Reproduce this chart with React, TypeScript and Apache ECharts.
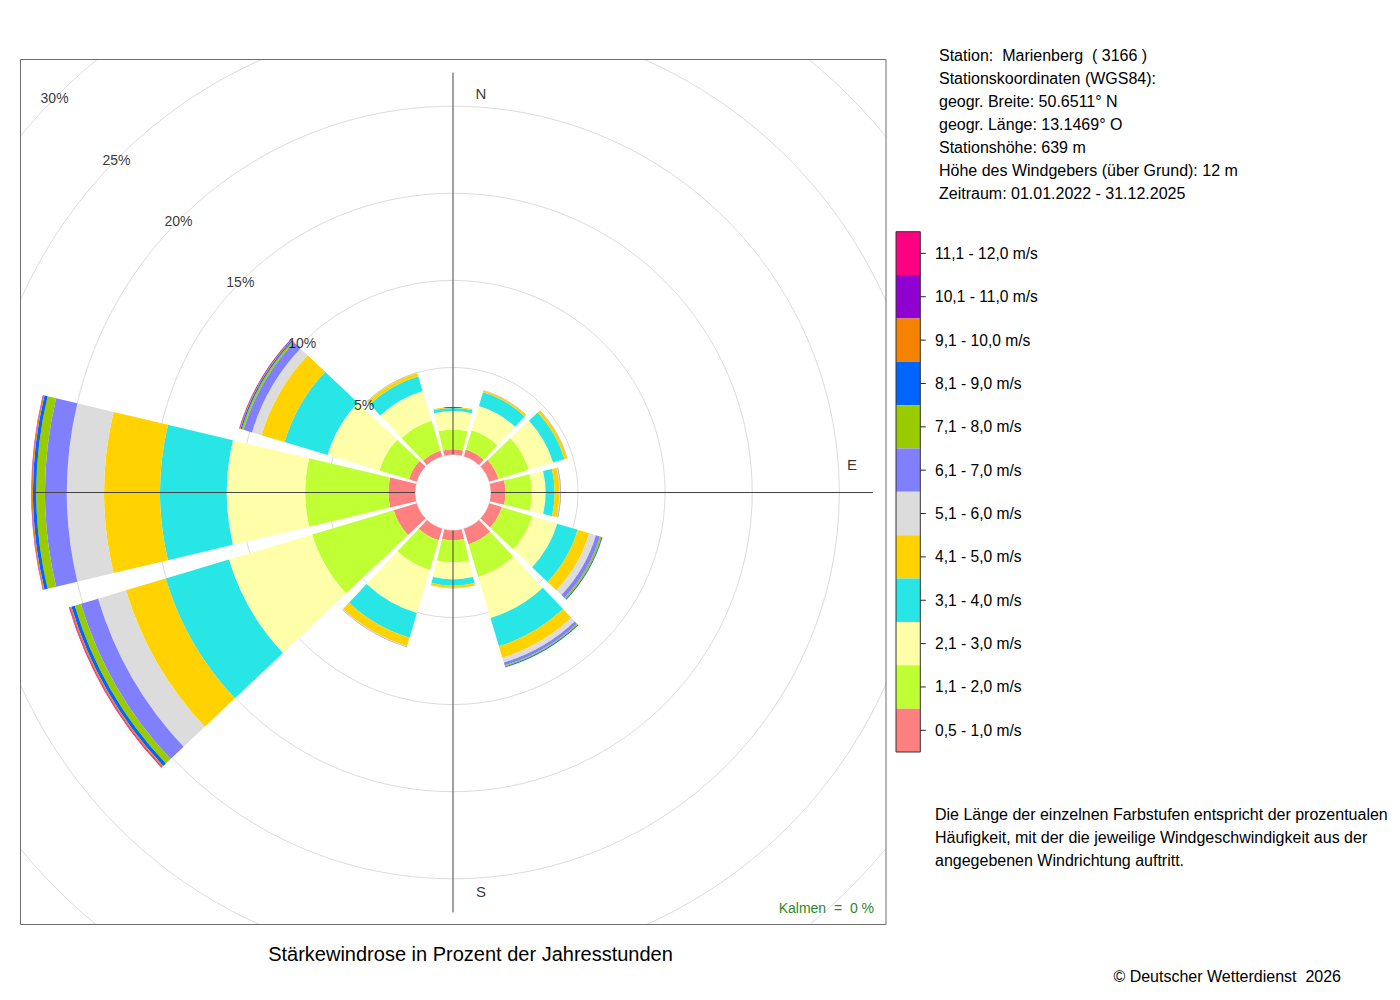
import React, { useEffect, useRef } from "react";
import * as echarts from "echarts";

// Directions (sector centers, clockwise from north, 30° steps)
const directions = ["N", "NNO", "ONO", "O", "OSO", "SSO", "S", "SSW", "WSW", "W", "WNW", "NNW"];

// Speed band labels (innermost first) and colours
const bandLabels = [
  "0,5 - 1,0 m/s",
  "1,1 - 2,0 m/s",
  "2,1 - 3,0 m/s",
  "3,1 - 4,0 m/s",
  "4,1 - 5,0 m/s",
  "5,1 - 6,0 m/s",
  "6,1 - 7,0 m/s",
  "7,1 - 8,0 m/s",
  "8,1 - 9,0 m/s",
  "9,1 - 10,0 m/s",
  "10,1 - 11,0 m/s",
  "11,1 - 12,0 m/s",
];
const bandColors = [
  "#FF8080", "#BFFF33", "#FFFFAA", "#29E6E6", "#FFD200", "#DCDCDC",
  "#8080FF", "#99CC00", "#0064FF", "#F58300", "#9000D0", "#FF0080",
];

// Percent of hours per direction (N, NNO, ONO, O, OSO, SSO, S, SSW, WSW, W, WNW, NNW)
const band0 = [0.30, 0.40, 0.55, 0.84, 0.75, 0.92, 0.57, 0.69, 1.38, 1.53, 0.46, 0.33];
const band1 = [1.14, 1.15, 1.81, 1.51, 1.83, 1.95, 1.27, 1.78, 4.88, 4.78, 1.78, 1.79];
const band2 = [1.06, 1.46, 1.46, 0.79, 1.49, 2.47, 0.97, 2.58, 4.99, 4.50, 3.10, 1.78];
const band3 = [0.17, 0.82, 0.69, 0.52, 1.23, 1.69, 0.36, 1.47, 3.79, 3.83, 2.58, 0.89];
const band4 = [0.06, 0.11, 0.17, 0.28, 0.69, 0.69, 0.14, 0.51, 2.38, 3.21, 1.38, 0.20];
const band5 = [0, 0.01, 0.01, 0.05, 0.40, 0.29, 0.01, 0.03, 1.67, 2.14, 0.57, 0.02];
const band6 = [0, 0.01, 0.01, 0.03, 0.24, 0.17, 0.01, 0.02, 1.03, 1.25, 0.51, 0.01];
const band7 = [0, 0, 0, 0.01, 0.10, 0.07, 0, 0.01, 0.37, 0.50, 0.11, 0.01];
const band8 = [0, 0, 0, 0, 0.05, 0.05, 0, 0, 0.20, 0.19, 0.07, 0];
const band9 = [0, 0, 0, 0, 0.01, 0.01, 0, 0, 0.09, 0.07, 0.04, 0];
const band10 = [0, 0, 0, 0, 0, 0, 0, 0, 0.03, 0.02, 0.03, 0];
const band11 = [0, 0, 0, 0, 0, 0, 0, 0, 0.03, 0.01, 0.01, 0];
const bands = [band0, band1, band2, band3, band4, band5, band6, band7, band8, band9, band10, band11];

// Radial ticks (percent) and compass labels
const percentTicks = [5, 10, 15, 20, 25, 30];
const compassLabels = ["N", "E", "S"];
const compassAngles = [4, 86, 176];

const stationLines = [
  "Station:\u00a0 Marienberg\u00a0 ( 3166 )",
  "Stationskoordinaten (WGS84):",
  "geogr. Breite: 50.6511° N",
  "geogr. Länge: 13.1469° O",
  "Stationshöhe: 639 m",
  "Höhe des Windgebers (über Grund): 12 m",
  "Zeitraum: 01.01.2022 - 31.12.2025",
];
const descriptionLines = [
  "Die Länge der einzelnen Farbstufen entspricht der prozentualen",
  "Häufigkeit, mit der die jeweilige Windgeschwindigkeit aus der",
  "angegebenen Windrichtung auftritt.",
];
const titleText = "Stärkewindrose in Prozent der Jahresstunden";
const calmText = "Kalmen\u00a0 =\u00a0 0 %";
const footerText = "© Deutscher Wetterdienst\u00a0 2026";

const FONT = "'Liberation Sans', Arial, Helvetica, sans-serif";

export default function App() {
  const ref = useRef<HTMLDivElement>(null);

  useEffect(() => {
    if (!ref.current) return;
    const chart = echarts.init(ref.current, undefined, { renderer: "svg" });

    const cx = 453;
    const cy = 492.5;
    const r0 = 37.9;
    const r1 = 560.5;
    const crossR = 21.93;

    const barSeries = bands.map((vals, i) => ({
      type: "bar",
      name: bandLabels[i],
      coordinateSystem: "polar",
      polarIndex: 0,
      stack: "wind",
      barCategoryGap: "11%",
      data: vals,
      itemStyle: { color: bandColors[i], borderWidth: 0 },
      silent: true,
    }));

    const graphics: any[] = [];
    const Z = 100;
    // masks outside the plot frame
    graphics.push({ type: "rect", z: Z, silent: true, shape: { x: 0, y: 0, width: 1400, height: 59 }, style: { fill: "#fff" } });
    graphics.push({ type: "rect", z: Z, silent: true, shape: { x: 0, y: 925, width: 1400, height: 75 }, style: { fill: "#fff" } });
    graphics.push({ type: "rect", z: Z, silent: true, shape: { x: 0, y: 0, width: 20, height: 1000 }, style: { fill: "#fff" } });
    graphics.push({ type: "rect", z: Z, silent: true, shape: { x: 886.5, y: 0, width: 520, height: 1000 }, style: { fill: "#fff" } });
    // frame
    graphics.push({
      type: "rect", z: Z + 1, silent: true,
      shape: { x: 20.5, y: 59.5, width: 865.5, height: 865 },
      style: { fill: "none", stroke: "#6e6e6e", lineWidth: 1 },
    });
    // calm text
    graphics.push({
      type: "text", z: Z + 2, x: 874, y: 908,
      style: { text: calmText, fill: "#2a8a2a", fontSize: 14, fontFamily: FONT, textAlign: "right", textVerticalAlign: "middle" },
    });
    // title
    graphics.push({
      type: "text", z: Z + 2, x: 470.5, y: 954,
      style: { text: titleText, fill: "#000", fontSize: 20, fontFamily: FONT, textAlign: "center", textVerticalAlign: "middle" },
    });
    // station info
    stationLines.forEach((t, i) => {
      graphics.push({
        type: "text", z: Z + 2, x: 939, y: 55 + i * 23.15,
        style: { text: t, fill: "#000", fontSize: 16, fontFamily: FONT, textAlign: "left", textVerticalAlign: "middle" },
      });
    });
    // legend colour bar
    const lx = 896;
    const ly = 231.7;
    const lw = 24.3;
    const lh = (752 - 231.7) / bandLabels.length;
    for (let k = 0; k < bandLabels.length; k++) {
      const idx = bandLabels.length - 1 - k;
      const y = ly + k * lh;
      graphics.push({
        type: "rect", z: Z + 2, silent: true,
        shape: { x: lx, y, width: lw, height: lh },
        style: { fill: bandColors[idx] },
      });
      graphics.push({
        type: "line", z: Z + 3, silent: true,
        shape: { x1: lx + lw, y1: y + lh / 2, x2: lx + lw + 5.5, y2: y + lh / 2 },
        style: { stroke: "#222", lineWidth: 1 },
      });
      graphics.push({
        type: "text", z: Z + 3, x: 935, y: y + lh / 2,
        style: { text: bandLabels[idx], fill: "#000", fontSize: 15.6, fontFamily: FONT, textAlign: "left", textVerticalAlign: "middle" },
      });
    }
    graphics.push({
      type: "rect", z: Z + 3, silent: true,
      shape: { x: lx, y: ly, width: lw, height: 752 - ly },
      style: { fill: "none", stroke: "#333", lineWidth: 1 },
    });
    // description
    descriptionLines.forEach((t, i) => {
      graphics.push({
        type: "text", z: Z + 2, x: 935, y: 814 + i * 23,
        style: { text: t, fill: "#000", fontSize: 16, fontFamily: FONT, textAlign: "left", textVerticalAlign: "middle" },
      });
    });
    // footer
    graphics.push({
      type: "text", z: Z + 2, x: 1341, y: 976,
      style: { text: footerText, fill: "#000", fontSize: 16, fontFamily: FONT, textAlign: "right", textVerticalAlign: "middle" },
    });

    const option: any = {
      animation: false,
      backgroundColor: "#fff",
      textStyle: { fontFamily: FONT },
      polar: [
        { center: [cx, cy], radius: [r0, r1] },
        { center: [cx, cy], radius: [r0, r1] },
      ],
      angleAxis: [
        {
          polarIndex: 0, type: "category", data: directions, startAngle: 105, clockwise: true, boundaryGap: true,
          axisLine: { show: false }, axisTick: { show: false }, axisLabel: { show: false }, splitLine: { show: false },
        },
        {
          polarIndex: 1, type: "value", min: 0, max: 360, startAngle: 90, clockwise: true,
          axisLine: { show: false }, axisTick: { show: false }, axisLabel: { show: false }, splitLine: { show: false },
        },
      ],
      radiusAxis: [
        {
          polarIndex: 0, type: "value", min: 0, max: 30, interval: 5,
          axisLine: { show: false }, axisTick: { show: false }, axisLabel: { show: false },
          splitLine: { show: true, lineStyle: { color: "#dcdcdc", width: 1 } },
        },
        {
          polarIndex: 1, type: "value", min: 0, max: 30, interval: 5,
          axisLine: { show: false }, axisTick: { show: false }, axisLabel: { show: false }, splitLine: { show: false },
        },
      ],
      series: [
        {
          type: "line", coordinateSystem: "polar", polarIndex: 1, silent: true,
          data: [[crossR, 0], [crossR, 180]], symbol: "none",
          lineStyle: { color: "#444", width: 1 },
        },
        {
          type: "line", coordinateSystem: "polar", polarIndex: 1, silent: true,
          data: [[crossR, 90], [crossR, 270]], symbol: "none",
          lineStyle: { color: "#444", width: 1 },
        },
        ...barSeries,
        {
          type: "scatter", coordinateSystem: "polar", polarIndex: 1, silent: true,
          symbolSize: 1, itemStyle: { color: "transparent" },
          data: percentTicks.map((p) => ({ value: [p, 314.7], name: p + "%" })),
          label: { show: true, position: "inside", formatter: "{b}", color: "#000", fontSize: 14, fontFamily: FONT },
        },
        {
          type: "scatter", coordinateSystem: "polar", polarIndex: 1, silent: true,
          symbolSize: 1, itemStyle: { color: "transparent" },
          data: compassLabels.map((c, i) => ({ value: [20.79, compassAngles[i]], name: c })),
          label: { show: true, position: "inside", formatter: "{b}", color: "#000", fontSize: 15, fontFamily: FONT },
        },
      ],
      graphic: { elements: graphics },
    };

    chart.setOption(option);
    return () => chart.dispose();
  }, []);

  return (
    <div
      ref={ref}
      style={{ position: "absolute", left: 0, top: 0, width: 1400, height: 1000, background: "#fff" }}
    />
  );
}
